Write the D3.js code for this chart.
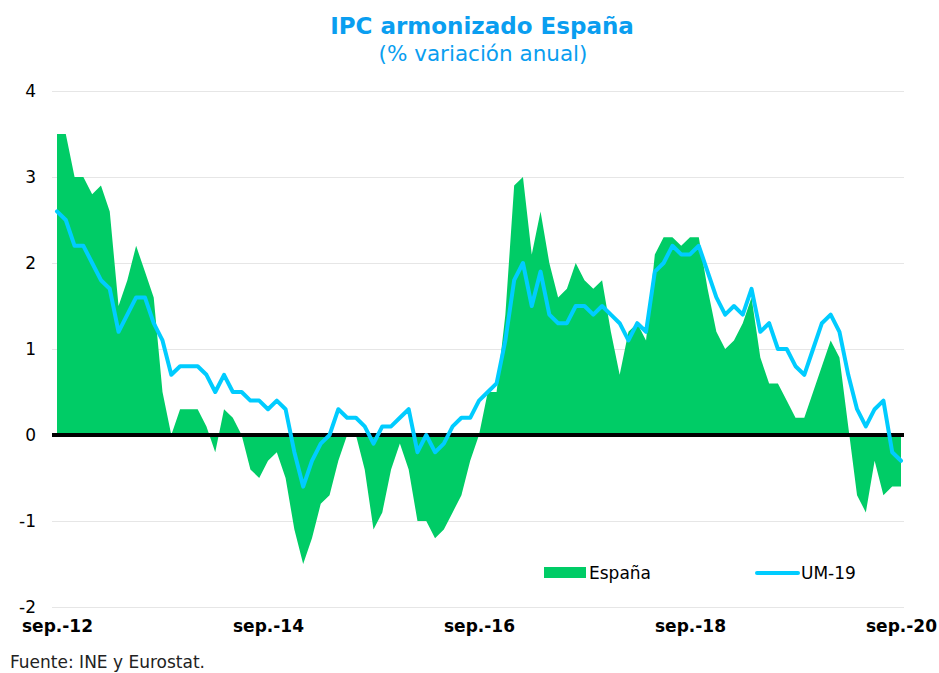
<!DOCTYPE html>
<html>
<head>
<meta charset="utf-8">
<script src="https://cdn.jsdelivr.net/npm/d3@7"></script>
<style>
  body { margin: 0; background: #fff; }
  svg { font-family: "DejaVu Sans", Verdana, sans-serif; }
</style>
</head>
<body>
<script>
// monthly data, sep-2012 .. sep-2020
const espana = [
  3.5, 3.5, 3.0, 3.0, 2.8, 2.9, 2.6, 1.5, 1.8, 2.2, 1.9, 1.6,
  0.5, 0.0, 0.3, 0.3, 0.3, 0.1, -0.2, 0.3, 0.2, 0.0, -0.4, -0.5,
  -0.3, -0.2, -0.5, -1.1, -1.5, -1.2, -0.8, -0.7, -0.3, 0.0, 0.0, -0.4,
  -1.1, -0.9, -0.4, -0.1, -0.4, -1.0, -1.0, -1.2, -1.1, -0.9, -0.7, -0.3,
  0.0, 0.5, 0.5, 1.4, 2.9, 3.0, 2.1, 2.6, 2.0, 1.6, 1.7, 2.0,
  1.8, 1.7, 1.8, 1.2, 0.7, 1.2, 1.3, 1.1, 2.1, 2.3, 2.3, 2.2,
  2.3, 2.3, 1.7, 1.2, 1.0, 1.1, 1.3, 1.6, 0.9, 0.6, 0.6, 0.4,
  0.2, 0.2, 0.5, 0.8, 1.1, 0.9, 0.1, -0.7, -0.9, -0.3, -0.7, -0.6, -0.6
];
const um19 = [
  2.6, 2.5, 2.2, 2.2, 2.0, 1.8, 1.7, 1.2, 1.4, 1.6, 1.6, 1.3,
  1.1, 0.7, 0.8, 0.8, 0.8, 0.7, 0.5, 0.7, 0.5, 0.5, 0.4, 0.4,
  0.3, 0.4, 0.3, -0.2, -0.6, -0.3, -0.1, 0.0, 0.3, 0.2, 0.2, 0.1,
  -0.1, 0.1, 0.1, 0.2, 0.3, -0.2, 0.0, -0.2, -0.1, 0.1, 0.2, 0.2,
  0.4, 0.5, 0.6, 1.1, 1.8, 2.0, 1.5, 1.9, 1.4, 1.3, 1.3, 1.5,
  1.5, 1.4, 1.5, 1.4, 1.3, 1.1, 1.3, 1.2, 1.9, 2.0, 2.2, 2.1,
  2.1, 2.2, 1.9, 1.6, 1.4, 1.5, 1.4, 1.7, 1.2, 1.3, 1.0, 1.0,
  0.8, 0.7, 1.0, 1.3, 1.4, 1.2, 0.7, 0.3, 0.1, 0.3, 0.4, -0.2, -0.3
];
const xTickIdx = [0, 24, 48, 72, 96];
const xTickLabels = ["sep.-12", "sep.-14", "sep.-16", "sep.-18", "sep.-20"];
const yTicks = [-2, -1, 0, 1, 2, 3, 4];

const width = 939;
const height = 673;
const blue = "#0a9ef0";

const svg = d3.select("body").append("svg")
  .attr("width", width)
  .attr("height", height);

const x = d3.scaleLinear().domain([0, 96]).range([57, 901]);
const y = d3.scaleLinear().domain([-2, 4]).range([607, 91]);

// title
svg.append("text")
  .attr("x", 482).attr("y", 34)
  .attr("text-anchor", "middle")
  .style("font-size", "23px").style("font-weight", "bold")
  .style("fill", blue)
  .text("IPC armonizado España");
svg.append("text")
  .attr("x", 483).attr("y", 61)
  .attr("text-anchor", "middle")
  .style("font-size", "21.5px")
  .style("fill", blue)
  .text("(% variación anual)");

// gridlines
const yAxis = d3.axisLeft(y).tickValues(yTicks).tickSize(-(904 - 52)).tickFormat((d) => String(d));
const gy = svg.append("g").attr("transform", "translate(52,0)").call(yAxis);
gy.select(".domain").remove();
gy.selectAll(".tick line").attr("stroke", "#e6e6e6");
gy.selectAll(".tick text")
  .attr("x", -16)
  .style("font-size", "17px")
  .style("font-family", "DejaVu Sans, Verdana, sans-serif")
  .style("fill", "#000");

// España area
const area = d3.area()
  .x((d, i) => x(i))
  .y0(y(0))
  .y1((d) => y(d));
svg.append("path")
  .datum(espana)
  .attr("d", area)
  .attr("fill", "#00cc66");

// zero line
svg.append("line")
  .attr("x1", 52).attr("x2", 904)
  .attr("y1", y(0)).attr("y2", y(0))
  .attr("stroke", "#000").attr("stroke-width", 4);

// UM-19 line
const line = d3.line()
  .x((d, i) => x(i))
  .y((d) => y(d));
svg.append("path")
  .datum(um19)
  .attr("d", line)
  .attr("fill", "none")
  .attr("stroke", "#00ccff")
  .attr("stroke-width", 4)
  .attr("stroke-linejoin", "round")
  .attr("stroke-linecap", "round");

// x axis labels
const xAxis = d3.axisBottom(x).tickValues(xTickIdx).tickSize(0)
  .tickFormat((d, i) => xTickLabels[i]);
const gx = svg.append("g").attr("transform", "translate(0,617)").call(xAxis);
gx.select(".domain").remove();
gx.selectAll(".tick text")
  .style("font-size", "17px")
  .style("font-weight", "bold")
  .style("font-family", "DejaVu Sans, Verdana, sans-serif")
  .style("fill", "#000");

// legend
const legend = svg.append("g");
legend.append("rect")
  .attr("x", 544).attr("y", 567).attr("width", 42).attr("height", 11)
  .attr("fill", "#00cc66");
legend.append("text")
  .attr("x", 589).attr("y", 579)
  .style("font-size", "17px")
  .text("España");
legend.append("line")
  .attr("x1", 757).attr("x2", 798).attr("y1", 573).attr("y2", 573)
  .attr("stroke", "#00ccff").attr("stroke-width", 4)
  .attr("stroke-linecap", "round");
legend.append("text")
  .attr("x", 801).attr("y", 579)
  .style("font-size", "17px")
  .text("UM-19");

// source
svg.append("text")
  .attr("x", 10).attr("y", 668)
  .style("font-size", "17px")
  .style("fill", "#222")
  .text("Fuente: INE y Eurostat.");
</script>
</body>
</html>
